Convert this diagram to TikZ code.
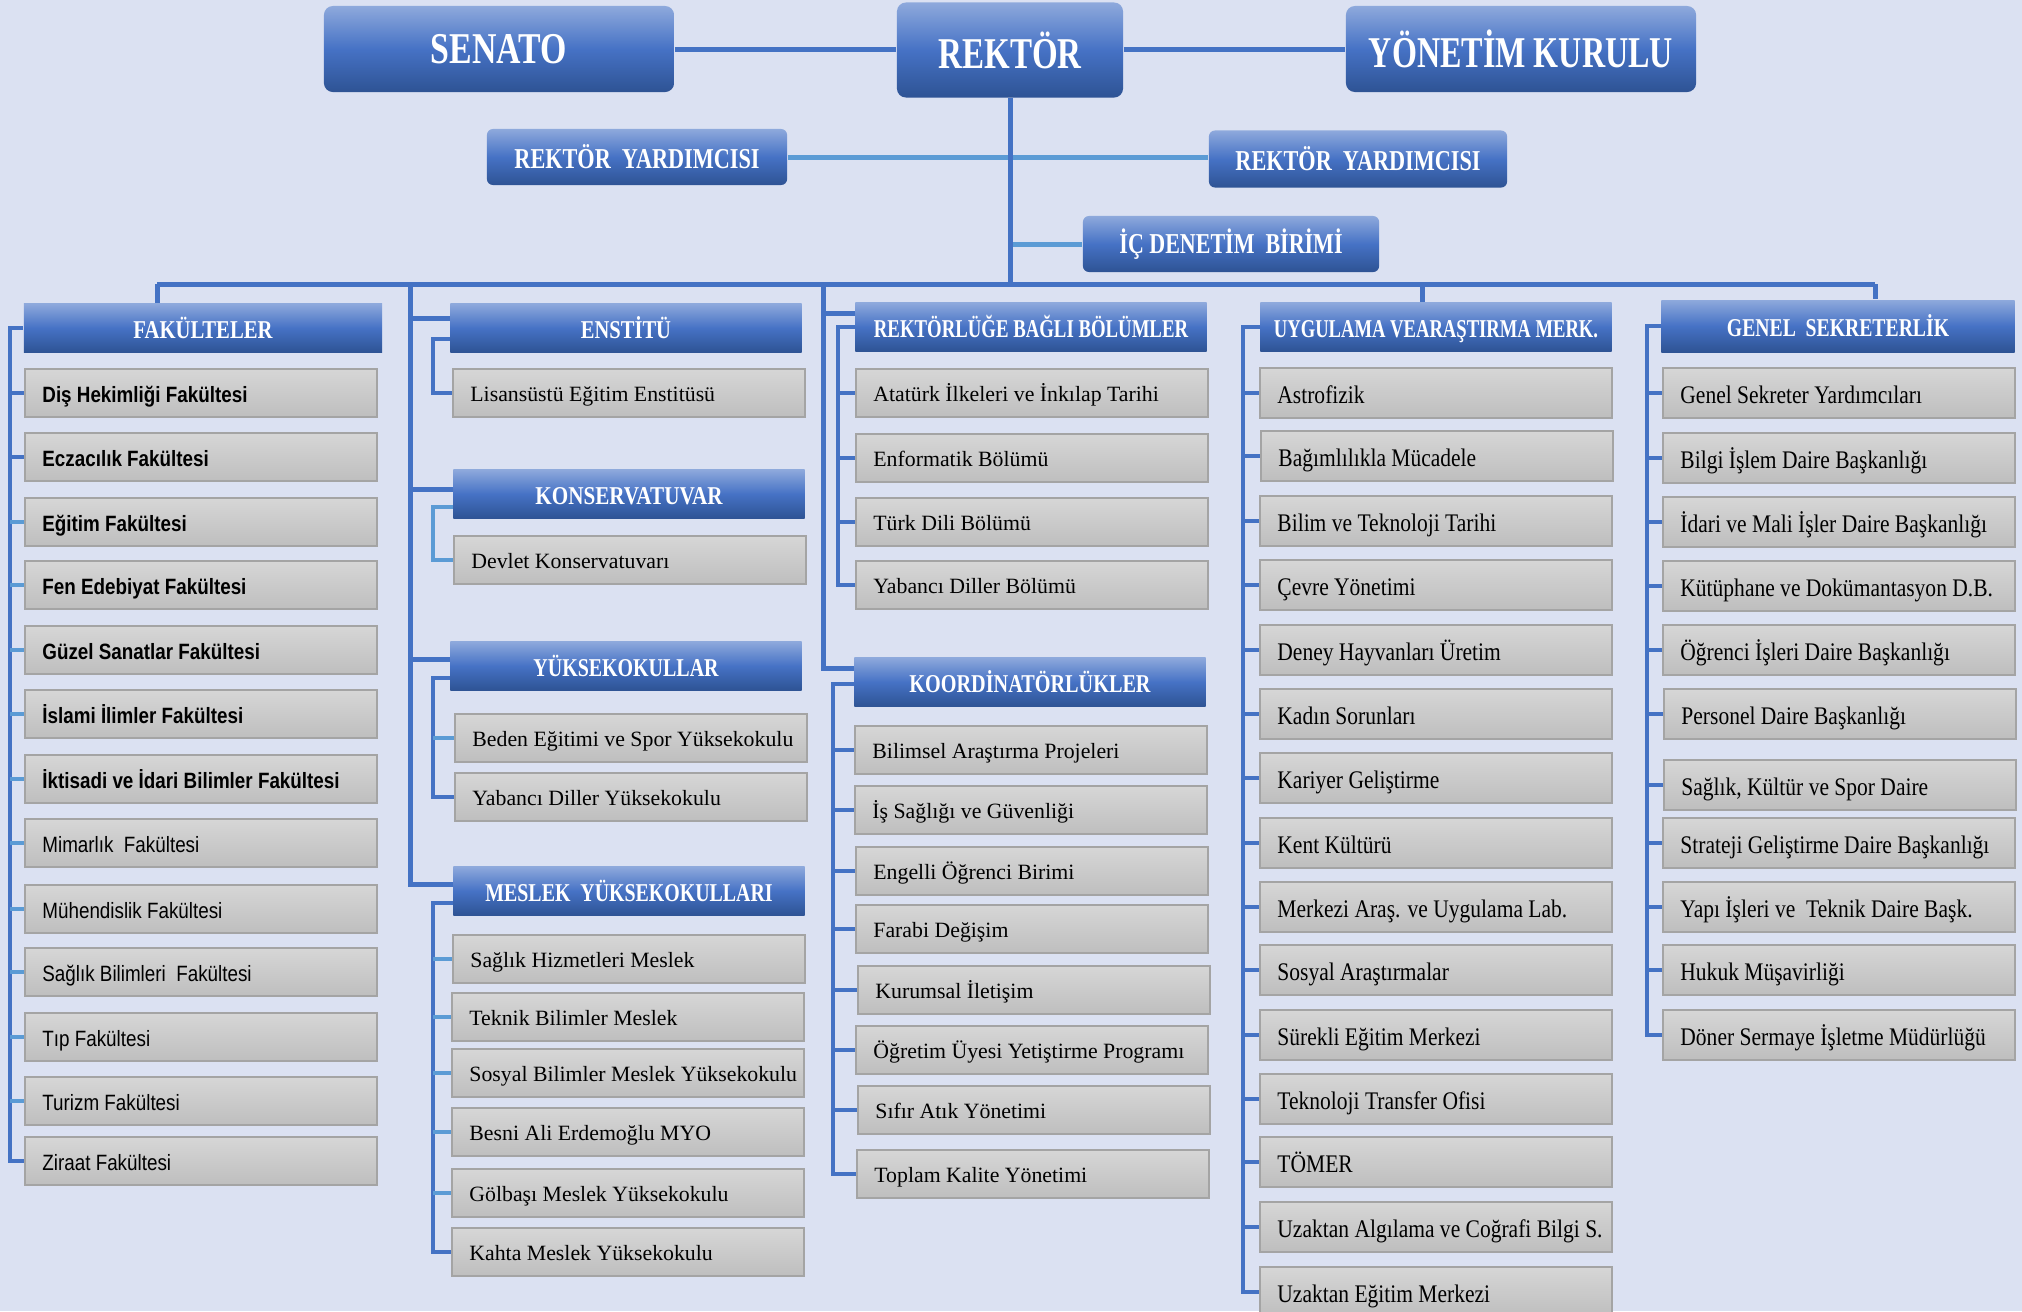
\documentclass[tikz,border=0pt]{standalone}
\usepackage{fontspec}
\usepackage{graphicx}
\usepackage{tikz}
\setmainfont{Liberation Serif}
\newfontfamily\facfont[FakeStretch=0.85]{Liberation Sans}
\newfontfamily\condfont[FakeStretch=0.85]{Liberation Serif}
\newcommand{\hsq}[2]{\resizebox{#1}{\height}{#2}}
\newcommand{\boxtxt}[1]{\makebox[3.17cm][l]{#1}}

\begin{document}
\begin{tikzpicture}[x=0.01cm,y=-0.01cm,
  chief/.style={rounded corners=0.09cm, top color=hdtop, bottom color=hdbot, middle color=hdmid,
    text=white, inner sep=0pt, font=\bfseries\fontsize{12.5}{14}\selectfont},
  deputy/.style={chief, rounded corners=0.06cm, font=\bfseries\fontsize{8.2}{9}\selectfont},
  unit/.style={top color=hdtop, bottom color=hdbot, middle color=hdmid, text=white, inner sep=0pt,
    minimum width=3.51cm, minimum height=0.49cm, text height=0.23cm, text depth=0.02cm,
    font=\bfseries\fontsize{7.3}{8}\selectfont},
  item/.style={top color=itemtop, bottom color=itembot, draw=itemline, line width=0.02cm,
    inner xsep=0.17cm, inner ysep=0pt, minimum height=0.48cm, text height=0.22cm, text depth=0.04cm},
  facitem/.style={item, font=\facfont\fontsize{6.3}{7}\selectfont},
  facbold/.style={item, font=\facfont\bfseries\fontsize{6.3}{7}\selectfont},
  seritem/.style={item, text height=0.21cm, text depth=0.045cm, font=\fontsize{6.2}{7}\selectfont},
  conditem/.style={item, minimum height=0.50cm, text height=0.25cm, font=\condfont\fontsize{7.2}{8}\selectfont},
  mainln/.style={draw=darkln, line width=0.05cm},
  lightmain/.style={draw=lightln, line width=0.05cm},
  twig/.style={draw=darkln, line width=0.04cm},
  twigl/.style={draw=lightln, line width=0.04cm}]

% Colours of the chart
\definecolor{bgpage}{RGB}{219,225,242}
\definecolor{hdtop}{RGB}{142,169,220}
\definecolor{hdmid}{RGB}{70,114,197}
\definecolor{hdbot}{RGB}{46,83,148}
\definecolor{itemtop}{RGB}{214,214,214}
\definecolor{itembot}{RGB}{190,190,190}
\definecolor{itemline}{RGB}{164,164,164}
\definecolor{darkln}{RGB}{68,114,196}
\definecolor{lightln}{RGB}{91,155,213}

% Page
\useasboundingbox (0,0) rectangle (2022,1311);
\fill[bgpage] (0,0) rectangle (2022,1311);
\clip (0,0) rectangle (2022,1311);

% Top management
\node[chief, minimum width=3.50cm, minimum height=0.86cm] (senato) at (499,49) {\hsq{1.36cm}{SENATO}};
\node[chief, minimum width=2.26cm, minimum height=0.95cm] (rektor) at (1010,50) {\hsq{1.43cm}{REKTÖR}};
\node[chief, minimum width=3.50cm, minimum height=0.86cm] (yk) at (1521,49) {\hsq{3.04cm}{YÖNETİM KURULU}};
\node[deputy, minimum width=3.00cm, minimum height=0.56cm] (ry1) at (637,157) {\hsq{2.45cm}{REKTÖR\ \ YARDIMCISI}};
\node[deputy, minimum width=2.98cm, minimum height=0.57cm] (ry2) at (1358,159) {\hsq{2.45cm}{REKTÖR\ \ YARDIMCISI}};
\node[deputy, minimum width=2.96cm, minimum height=0.56cm] (ic) at (1231,244) {\hsq{2.23cm}{İÇ DENETİM\ \ BİRİMİ}};

% Unit headers
\node[unit, minimum width=3.58cm] (fak) at (203,328) {\hsq{1.39cm}{FAKÜLTELER}};
\node[unit] (ens) at (626,328) {\hsq{0.90cm}{ENSTİTÜ}};
\node[unit] (kon) at (629,494) {\hsq{1.87cm}{KONSERVATUVAR}};
\node[unit] (yuk) at (626,666) {\hsq{1.85cm}{YÜKSEKOKULLAR}};
\node[unit] (mes) at (629,891) {\hsq{2.87cm}{MESLEK\ \ YÜKSEKOKULLARI}};
\node[unit] (rbb) at (1031,327) {\hsq{3.14cm}{REKTÖRLÜĞE BAĞLI BÖLÜMLER}};
\node[unit] (koo) at (1030,682) {\hsq{2.41cm}{KOORDİNATÖRLÜKLER}};
\node[unit] (uyg) at (1436,327) {\hsq{3.24cm}{UYGULAMA VEARAŞTIRMA MERK.}};
\node[unit, minimum width=3.53cm, minimum height=0.52cm] (gen) at (1838,326) {\hsq{2.22cm}{GENEL\ \ SEKRETERLİK}};

% Faculties
\node[facbold] (f1) at (201,393) {\boxtxt{Diş Hekimliği Fakültesi}};
\node[facbold] (f2) at (201,457) {\boxtxt{Eczacılık Fakültesi}};
\node[facbold] (f3) at (201,522) {\boxtxt{Eğitim Fakültesi}};
\node[facbold] (f4) at (201,585) {\boxtxt{Fen Edebiyat Fakültesi}};
\node[facbold] (f5) at (201,650) {\boxtxt{Güzel Sanatlar Fakültesi}};
\node[facbold] (f6) at (201,714) {\boxtxt{İslami İlimler Fakültesi}};
\node[facbold] (f7) at (201,779) {\boxtxt{İktisadi ve İdari Bilimler Fakültesi}};
\node[facitem] (f8) at (201,843) {\boxtxt{Mimarlık\ \ Fakültesi}};
\node[facitem] (f9) at (201,909) {\boxtxt{Mühendislik Fakültesi}};
\node[facitem] (f10) at (201,972) {\boxtxt{Sağlık Bilimleri\ \ Fakültesi}};
\node[facitem] (f11) at (201,1037) {\boxtxt{Tıp Fakültesi}};
\node[facitem] (f12) at (201,1101) {\boxtxt{Turizm Fakültesi}};
\node[facitem] (f13) at (201,1161) {\boxtxt{Ziraat Fakültesi}};

% Institute, conservatory, schools
\node[seritem] (e1) at (629,393) {\boxtxt{Lisansüstü Eğitim Enstitüsü}};
\node[seritem] (k1) at (630,560) {\boxtxt{Devlet Konservatuvarı}};
\node[seritem] (y1) at (631,738) {\boxtxt{Beden Eğitimi ve Spor Yüksekokulu}};
\node[seritem] (y2) at (631,797) {\boxtxt{Yabancı Diller Yüksekokulu}};
\node[seritem] (m1) at (629,959) {\boxtxt{Sağlık Hizmetleri Meslek}};
\node[seritem] (m2) at (628,1017) {\boxtxt{Teknik Bilimler Meslek}};
\node[seritem] (m3) at (628,1073) {\boxtxt{Sosyal Bilimler Meslek Yüksekokulu}};
\node[seritem] (m4) at (628,1132) {\boxtxt{Besni Ali Erdemoğlu MYO}};
\node[seritem] (m5) at (628,1193) {\boxtxt{Gölbaşı Meslek Yüksekokulu}};
\node[seritem] (m6) at (628,1252) {\boxtxt{Kahta Meslek Yüksekokulu}};

% Departments and coordinators
\node[seritem] (b1) at (1032,393) {\boxtxt{Atatürk İlkeleri ve İnkılap Tarihi}};
\node[seritem] (b2) at (1032,458) {\boxtxt{Enformatik Bölümü}};
\node[seritem] (b3) at (1032,522) {\boxtxt{Türk Dili Bölümü}};
\node[seritem] (b4) at (1032,585) {\boxtxt{Yabancı Diller Bölümü}};
\node[seritem] (c1) at (1031,750) {\boxtxt{Bilimsel Araştırma Projeleri}};
\node[seritem] (c2) at (1031,810) {\boxtxt{İş Sağlığı ve Güvenliği}};
\node[seritem] (c3) at (1032,871) {\boxtxt{Engelli Öğrenci Birimi}};
\node[seritem] (c4) at (1032,929) {\boxtxt{Farabi Değişim}};
\node[seritem] (c5) at (1034,990) {\boxtxt{Kurumsal İletişim}};
\node[seritem] (c6) at (1032,1050) {\boxtxt{Öğretim Üyesi Yetiştirme Programı}};
\node[seritem] (c7) at (1034,1110) {\boxtxt{Sıfır Atık Yönetimi}};
\node[seritem] (c8) at (1033,1174) {\boxtxt{Toplam Kalite Yönetimi}};

% Research centres
\node[conditem] (u1) at (1436,393) {\boxtxt{Astrofizik}};
\node[conditem] (u2) at (1437,456) {\boxtxt{Bağımlılıkla Mücadele}};
\node[conditem] (u3) at (1436,521) {\boxtxt{Bilim ve Teknoloji Tarihi}};
\node[conditem] (u4) at (1436,585) {\boxtxt{Çevre Yönetimi}};
\node[conditem] (u5) at (1436,650) {\boxtxt{Deney Hayvanları Üretim}};
\node[conditem] (u6) at (1436,714) {\boxtxt{Kadın Sorunları}};
\node[conditem] (u7) at (1436,778) {\boxtxt{Kariyer Geliştirme}};
\node[conditem] (u8) at (1436,843) {\boxtxt{Kent Kültürü}};
\node[conditem] (u9) at (1436,907) {\boxtxt{Merkezi Araş. ve Uygulama Lab.}};
\node[conditem] (u10) at (1436,970) {\boxtxt{Sosyal Araştırmalar}};
\node[conditem] (u11) at (1436,1035) {\boxtxt{Sürekli Eğitim Merkezi}};
\node[conditem] (u12) at (1436,1099) {\boxtxt{Teknoloji Transfer Ofisi}};
\node[conditem] (u13) at (1436,1162) {\boxtxt{TÖMER}};
\node[conditem] (u14) at (1436,1227) {\boxtxt{Uzaktan Algılama ve Coğrafi Bilgi S.}};
\node[conditem] (u15) at (1436,1292) {\boxtxt{Uzaktan Eğitim Merkezi}};

% General secretariat
\node[conditem] (g1) at (1839,393) {\boxtxt{Genel Sekreter Yardımcıları}};
\node[conditem] (g2) at (1839,458) {\boxtxt{Bilgi İşlem Daire Başkanlığı}};
\node[conditem] (g3) at (1839,522) {\boxtxt{İdari ve Mali İşler Daire Başkanlığı}};
\node[conditem] (g4) at (1839,586) {\boxtxt{Kütüphane ve Dokümantasyon D.B.}};
\node[conditem] (g5) at (1839,650) {\boxtxt{Öğrenci İşleri Daire Başkanlığı}};
\node[conditem] (g6) at (1840,714) {\boxtxt{Personel Daire Başkanlığı}};
\node[conditem] (g7) at (1840,785) {\boxtxt{Sağlık, Kültür ve Spor Daire}};
\node[conditem] (g8) at (1839,843) {\boxtxt{Strateji Geliştirme Daire Başkanlığı}};
\node[conditem] (g9) at (1839,907) {\boxtxt{Yapı İşleri ve\ \ Teknik Daire Başk.}};
\node[conditem] (g10) at (1839,970) {\boxtxt{Hukuk Müşavirliği}};
\node[conditem] (g11) at (1839,1035) {\boxtxt{Döner Sermaye İşletme Müdürlüğü}};

% Spine points
\coordinate (busL) at (157,284);
\coordinate (busR) at (1875,284);
\coordinate (d2) at (410,284);
\coordinate (d3) at (823,284);
\coordinate (d4) at (1422,284);
\coordinate (s1) at (10,0);
\coordinate (s2) at (433,0);
\coordinate (s3) at (838,0);
\coordinate (s3b) at (833,0);
\coordinate (s4) at (1243,0);
\coordinate (s5) at (1647,0);

% Top connectors
\draw[mainln] (senato.east) -- (rektor.west |- senato.east);
\draw[mainln] (rektor.east |- yk.west) -- (yk.west);
\draw[lightmain] (ry1.east) -- (ry2.west |- ry1.east);
\draw[lightmain] (rektor.south |- ic.west) -- (ic.west);
\draw[mainln] (rektor.south) -- (rektor.south |- busL);
\draw[mainln] (busL) -- (busR);

% Drops from the bus
\draw[mainln] (busL) -- (busL |- fak.north);
\draw[mainln] (d4) -- (d4 |- uyg.north);
\draw[mainln] (busR) -- (busR |- gen.north);
\draw[mainln] ([yshift=0.10cm]ens.west) -| (d2);
\draw[mainln] ([yshift=0.05cm]kon.west) -| (d2);
\draw[mainln] ([yshift=0.07cm]yuk.west) -| (d2);
\draw[mainln] ([yshift=0.07cm]mes.west) -| (d2);
\draw[mainln] ([yshift=0.14cm]rbb.west) -| (d3);
\draw[mainln] ([yshift=0.14cm]koo.west) -| (d3);

% Faculty branches
\draw[twig] (fak.west) -| (s1 |- f13.west) -- (f13.west);
\draw[twig] (s1 |- f1.west) -- (f1.west) (s1 |- f2.west) -- (f2.west);
\draw[twigl] (s1 |- f3.west) -- (f3.west) (s1 |- f4.west) -- (f4.west)
  (s1 |- f5.west) -- (f5.west) (s1 |- f6.west) -- (f6.west)
  (s1 |- f7.west) -- (f7.west) (s1 |- f8.west) -- (f8.west)
  (s1 |- f9.west) -- (f9.west) (s1 |- f10.west) -- (f10.west)
  (s1 |- f11.west) -- (f11.west) (s1 |- f12.west) -- (f12.west);

% Institute and schools branches
\draw[twig] ([yshift=-0.11cm]ens.west) -| (s2 |- e1.west) -- (e1.west);
\draw[twigl] ([yshift=-0.13cm]kon.west) -| (s2 |- k1.west) -- (k1.west);
\draw[twig] ([yshift=-0.12cm]yuk.west) -| (s2 |- y2.west) -- (y2.west);
\draw[twigl] (s2 |- y1.west) -- (y1.west);
\draw[twig] ([yshift=-0.12cm]mes.west) -| (s2 |- m6.west) -- (m6.west);
\draw[twigl] (s2 |- m1.west) -- (m1.west) (s2 |- m2.west) -- (m2.west)
  (s2 |- m3.west) -- (m3.west) (s2 |- m4.west) -- (m4.west)
  (s2 |- m5.west) -- (m5.west);

% Departments and coordinators branches
\draw[twig] (rbb.west) -| (s3 |- b4.west) -- (b4.west);
\draw[twig] (s3 |- b1.west) -- (b1.west) (s3 |- b2.west) -- (b2.west)
  (s3 |- b3.west) -- (b3.west);
\draw[twig] ([yshift=-0.02cm]koo.west) -| (s3b |- c8.west) -- (c8.west);
\draw[twig] (s3b |- c1.west) -- (c1.west) (s3b |- c2.west) -- (c2.west)
  (s3b |- c3.west) -- (c3.west) (s3b |- c4.west) -- (c4.west)
  (s3b |- c5.west) -- (c5.west) (s3b |- c6.west) -- (c6.west)
  (s3b |- c7.west) -- (c7.west);

% Research centre branches
\draw[twig] (uyg.west) -| (s4 |- u15.west) -- (u15.west);
\draw[twig] (s4 |- u1.west) -- (u1.west) (s4 |- u2.west) -- (u2.west)
  (s4 |- u3.west) -- (u3.west) (s4 |- u4.west) -- (u4.west)
  (s4 |- u5.west) -- (u5.west) (s4 |- u6.west) -- (u6.west)
  (s4 |- u7.west) -- (u7.west) (s4 |- u8.west) -- (u8.west)
  (s4 |- u9.west) -- (u9.west) (s4 |- u10.west) -- (u10.west)
  (s4 |- u11.west) -- (u11.west) (s4 |- u12.west) -- (u12.west)
  (s4 |- u13.west) -- (u13.west) (s4 |- u14.west) -- (u14.west);

% General secretariat branches
\draw[twig] (gen.west) -| (s5 |- g11.west) -- (g11.west);
\draw[twig] (s5 |- g1.west) -- (g1.west) (s5 |- g2.west) -- (g2.west)
  (s5 |- g3.west) -- (g3.west) (s5 |- g4.west) -- (g4.west)
  (s5 |- g5.west) -- (g5.west) (s5 |- g6.west) -- (g6.west)
  (s5 |- g7.west) -- (g7.west) (s5 |- g8.west) -- (g8.west)
  (s5 |- g9.west) -- (g9.west) (s5 |- g10.west) -- (g10.west);
\end{tikzpicture}
\end{document}
